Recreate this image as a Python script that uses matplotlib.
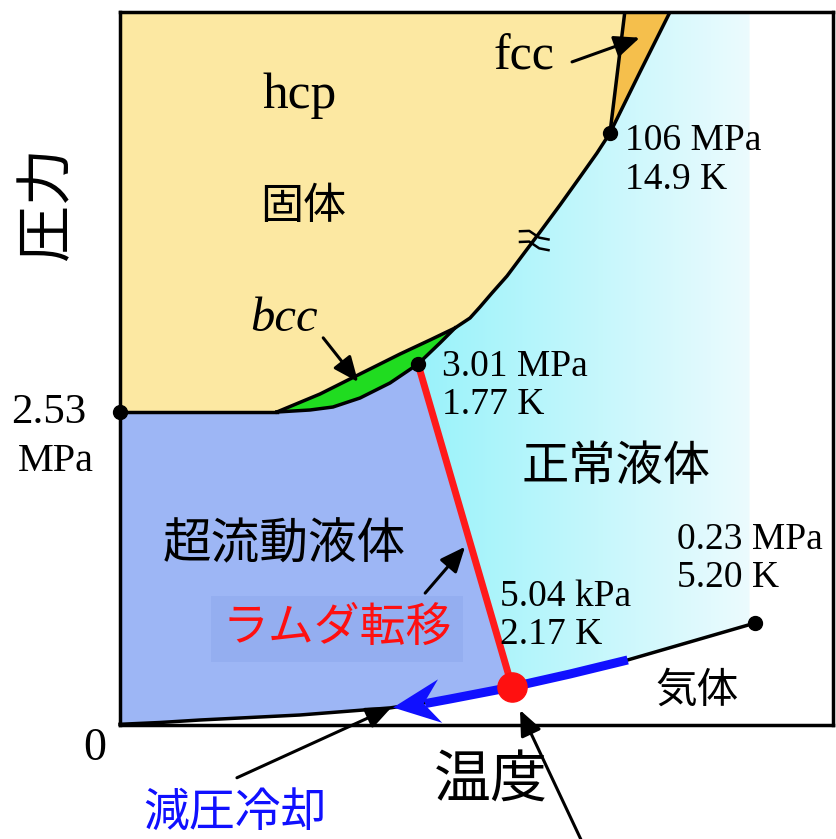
import numpy as np
import matplotlib.pyplot as plt
from matplotlib.patches import Polygon

plt.rcParams['font.family'] = ['Liberation Serif', 'Noto Sans CJK JP']

# ヘリウム4の相図(模式図, 温度・圧力とも 0-100 の任意目盛)
# 融解曲線 (hcp/bcc 固体 - 液体)
melt_T = [22.0, 28.05, 33.66, 39.27, 43.48, 46.98, 49.09, 50.49, 52.17, 54.28,
          56.8, 58.91, 61.71, 64.52, 66.9, 68.72, 72.93, 77.14]
melt_P = [43.9, 46.42, 49.23, 52.03, 54.0, 55.68, 57.08, 58.63, 60.59, 62.97,
          66.34, 69.14, 72.93, 76.86, 80.22, 83.03, 91.58, 100.0]
# bcc 相の下側境界 (bcc - 液体)
bcc_T = [22.0, 26.65, 29.87, 33.66, 37.87, 41.8, 44.88, 46.98]
bcc_P = [43.9, 44.18, 44.6, 45.86, 47.97, 50.63, 53.58, 55.68]
# hcp 固体と超流動液体の境界 (2.53 MPa)
hcp_T = [0.0, 22.0]
hcp_P = [43.9, 43.9]
# hcp - fcc 境界
fcc_T = [68.72, 70.8]
fcc_P = [83.03, 100.0]
# 蒸気圧曲線 (臨界点 5.20 K まで)
vap_T = [0.0, 5.6, 11.2, 25.2, 37.9, 46.3, 55.0, 63.1, 71.2, 79.9, 89.1]
vap_P = [0.1, 0.35, 0.7, 1.4, 2.4, 3.65, 5.33, 7.15, 9.12, 11.64, 14.31]
# ラムダ線
lam_T = [41.8, 55.0]
lam_P = [50.63, 5.33]
# 減圧冷却の経路
cool_T = [71.2, 63.1, 55.0, 46.3, 42.8]
cool_P = [9.12, 7.15, 5.33, 3.65, 3.0]
head_T = [38.3, 44.6, 42.6, 45.2]
head_P = [2.45, 6.4, 3.0, 0.3]

# 特徴的な点とその値
pt_T = [0.0, 41.8, 68.72, 89.1]
pt_P = [43.9, 50.63, 83.03, 14.31]
pt_labels = ['', '3.01 MPa\n1.77 K', '106 MPa\n14.9 K', '0.23 MPa\n5.20 K']
lam_pt_label = '5.04 kPa\n2.17 K'

c_hcp = '#fce8a2'
c_fcc = '#f5bf4c'
c_bcc = '#20dc20'
c_sf = '#9db6f5'

fig = plt.figure(figsize=(8.37, 8.39), dpi=100)
ax = fig.add_axes([120 / 837, 114 / 839, 713 / 837, 713 / 839])
ax.set_xlim(0, 100)
ax.set_ylim(0, 100)
ax.set_xticks([])
ax.set_yticks([])
for s in ax.spines.values():
    s.set_linewidth(2.5)
    s.set_zorder(10)

mT, mP = np.array(melt_T), np.array(melt_P)
bT, bP = np.array(bcc_T), np.array(bcc_P)
vT, vP = np.array(vap_T), np.array(vap_P)
i_bcc = 5    # 融解曲線と bcc 境界の合流点
i_fcc = 15   # 融解曲線上の hcp-fcc-液体 三重点
i_lam = 5    # bcc 境界上のラムダ点
i_v = 6      # 蒸気圧曲線上のラムダ点

# 各相の塗りつぶし
hcp_poly = np.vstack([np.column_stack([hcp_T, hcp_P]),
                      np.column_stack([mT[:i_fcc + 1], mP[:i_fcc + 1]]),
                      [[fcc_T[1], fcc_P[1]], [0, 100]]])
ax.add_patch(Polygon(hcp_poly, fc=c_hcp, ec='none', zorder=1))

fcc_poly = np.vstack([np.column_stack([mT[i_fcc:], mP[i_fcc:]]), [[fcc_T[1], fcc_P[1]]]])
ax.add_patch(Polygon(fcc_poly, fc=c_fcc, ec='none', zorder=1))

bcc_poly = np.vstack([np.column_stack([mT[:i_bcc + 1], mP[:i_bcc + 1]]),
                      np.column_stack([bT[::-1], bP[::-1]])])
ax.add_patch(Polygon(bcc_poly, fc=c_bcc, ec='none', zorder=1))

sf_poly = np.vstack([[[0, 0]],
                     np.column_stack([vT[:i_v + 1], vP[:i_v + 1]]),
                     np.column_stack([bT[i_lam::-1], bP[i_lam::-1]]),
                     [[0, hcp_P[0]]]])
ax.add_patch(Polygon(sf_poly, fc=c_sf, ec='none', zorder=1))

# 正常液体: 右へ向かって白くなるグラデーション
nl_poly = np.vstack([np.column_stack([bT[i_lam:], bP[i_lam:]]),
                     np.column_stack([mT[i_bcc + 1:], mP[i_bcc + 1:]]),
                     [[vT[-1] - 0.8, 100], [vT[-1] - 0.8, vP[-1]]],
                     np.column_stack([vT[:i_v - 1:-1], vP[:i_v - 1:-1]])])
nl_patch = Polygon(nl_poly, fc='none', ec='none', zorder=1)
ax.add_patch(nl_patch)
c0 = np.array([0.60, 0.95, 0.98])
c1 = np.array([0.93, 0.985, 0.995])
w = np.linspace(0, 1, 256)[None, :, None]
grad = c0 * (1 - w) + c1 * w
im = ax.imshow(grad, extent=[lam_T[0], vT[-1], 0, 100], aspect='auto',
               origin='lower', zorder=1)
im.set_clip_path(nl_patch)

# 境界線
lw = 2.5
ax.plot(hcp_T, hcp_P, color='k', lw=lw, zorder=3)
ax.plot(melt_T, melt_P, color='k', lw=lw, zorder=3, solid_joinstyle='round')
ax.plot(bcc_T, bcc_P, color='k', lw=lw, zorder=3, solid_joinstyle='round')
ax.plot(fcc_T, fcc_P, color='k', lw=lw, zorder=3)
ax.plot(vap_T, vap_P, color='k', lw=lw, zorder=3, clip_on=False)
ax.plot(lam_T, lam_P, color='#ff1a1a', lw=5, zorder=4, solid_capstyle='butt')

# 融解曲線の省略記号
for d in (0.75, -0.75):
    ax.plot([56.1, 57.4, 58.8, 60.1], [68.5 + d, 68.55 + d, 67.6 + d, 67.35 + d],
            color='k', lw=1.8, zorder=5)

# 減圧冷却の矢印
ax.plot(cool_T, cool_P, color='#1010ff', lw=6.5, zorder=5, solid_capstyle='butt')
ax.add_patch(Polygon(np.column_stack([head_T, head_P]), fc='#1010ff', ec='none', zorder=5))

# 点
ax.plot(pt_T, pt_P, 'o', color='k', ms=10, zorder=6, clip_on=False)
ax.plot(lam_T[1], lam_P[1], 'o', color='#ff1010', ms=21, zorder=7)

tk = dict(fontsize=27, va='center', ha='left', linespacing=1.15, zorder=8)
ax.text(70.8, 79.2, pt_labels[2], **tk)
ax.text(45.2, 47.6, pt_labels[1], **tk)
ax.text(78.1, 23.3, pt_labels[3], **tk)
ax.text(53.3, 15.3, lam_pt_label, **tk)

ax.text(-10.0, 43.8, '2.53', fontsize=31, ha='center', va='center', clip_on=False)
ax.text(-9.0, 36.9, 'MPa', fontsize=29, ha='center', va='center', clip_on=False)
ax.text(-3.5, -3.4, '0', fontsize=33, ha='center', va='center', clip_on=False)

# 相の名前
ax.text(25.2, 88.3, 'hcp', fontsize=37, ha='center', va='center', zorder=8)
ax.text(25.7, 72.5, '固体', fontsize=31, ha='center', va='center', zorder=8)
ax.text(56.7, 93.6, 'fcc', fontsize=36, ha='center', va='center', zorder=8)
ax.text(23.0, 56.9, 'bcc', fontsize=35, style='italic', ha='center', va='center', zorder=8)
ax.text(69.6, 36.0, '正常液体', fontsize=34, ha='center', va='center', zorder=8)
ax.text(23.1, 25.2, '超流動液体', fontsize=35, ha='center', va='center', zorder=8)
ax.text(80.9, 4.6, '気体', fontsize=30, ha='center', va='center', zorder=8)
ax.text(30.4, 13.4, 'ラムダ転移', fontsize=33, color='#ff1010', ha='center', va='center',
        zorder=8, bbox=dict(boxstyle='square,pad=0.25', fc='#94aef0', ec='none'))

# 軸ラベル
ax.text(52.0, -8.2, '温度', fontsize=41, ha='center', va='center', clip_on=False)
ax.text(-10.0, 73.2, '圧力', fontsize=41, rotation=90, ha='center', va='center', clip_on=False)
ax.text(16.1, -12.6, '減圧冷却', fontsize=33, color='#1010ff', ha='center', va='center',
        clip_on=False)

# 注釈の矢印
arw = dict(arrowstyle='-|>,head_length=0.7,head_width=0.3', color='k', lw=2.2,
           mutation_scale=22, shrinkA=0, shrinkB=0)
for start, end in [((63.4, 93.0), (72.9, 96.4)),
                   ((28.5, 54.3), (33.4, 48.1)),
                   ((42.8, 18.5), (48.4, 25.0)),
                   ((16.4, -7.4), (38.1, 2.5)),
                   ((66.5, -20.0), (56.1, 2.1))]:
    ax.annotate('', xy=end, xytext=start, arrowprops=arw, annotation_clip=False, zorder=9)

fig.savefig('out.png', dpi=100)
